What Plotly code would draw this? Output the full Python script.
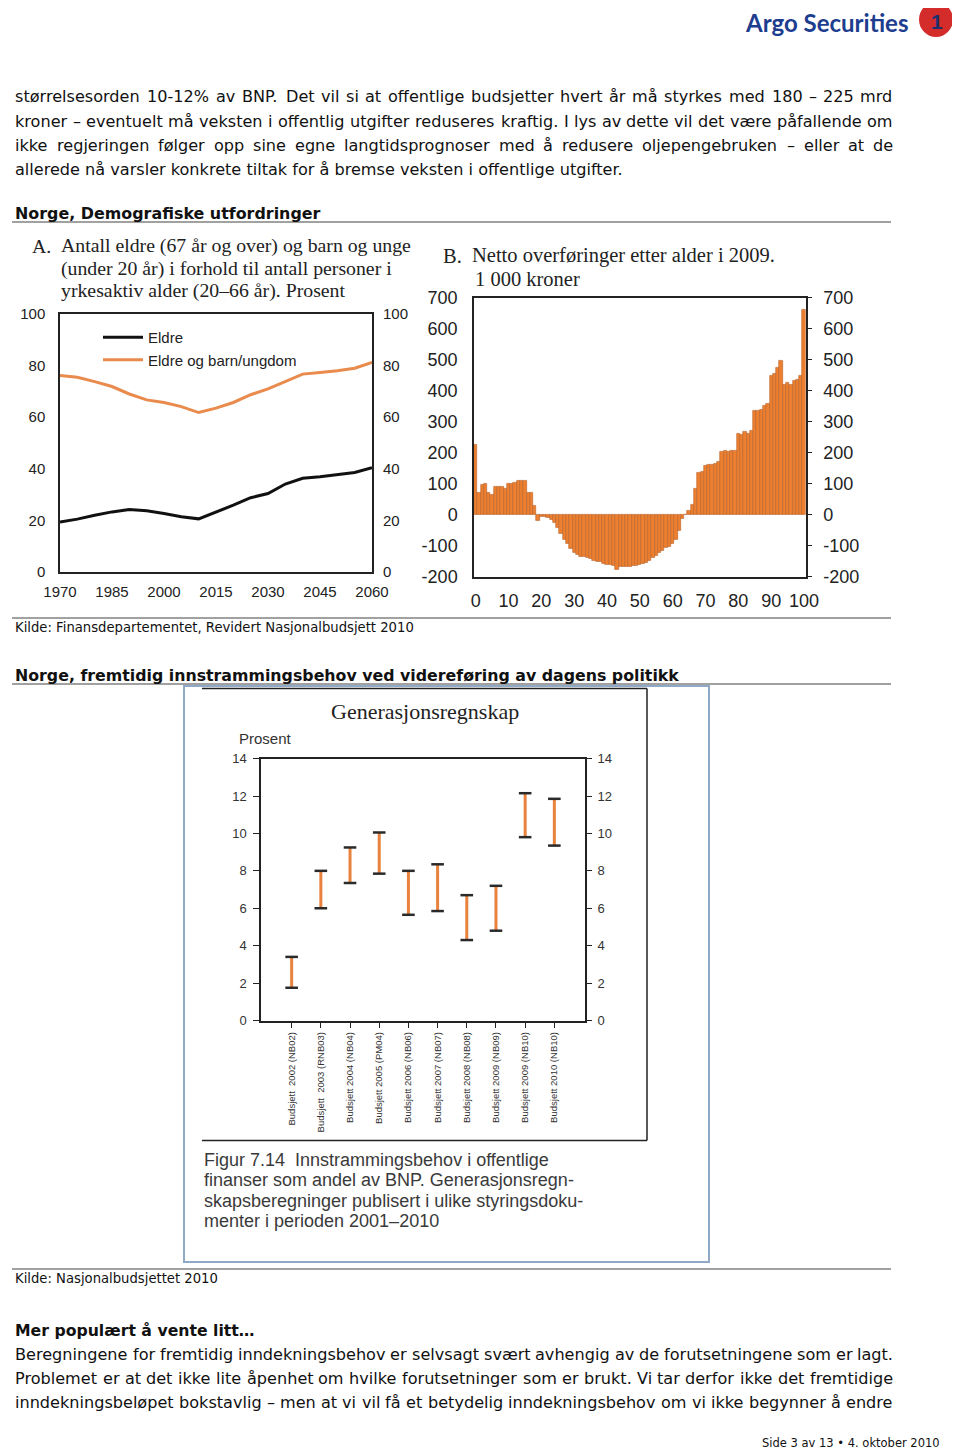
import plotly.graph_objects as go

# The page body has an 8px default margin, so the figure is placed at (8, 8).
OFF = 8
W, H = 960 - OFF, 1451 - OFF


def fx(x):
    return (x - OFF) / W


def fy(y):
    return 1 - (y - OFF) / H


# ---------------- data ----------------
years = [1970, 1975, 1980, 1985, 1990, 1995, 2000, 2005, 2010, 2015,
         2020, 2025, 2030, 2035, 2040, 2045, 2050, 2055, 2060]
eldre = [19.4, 20.5, 22.0, 23.3, 24.2, 23.7, 22.7, 21.4, 20.6, 23.2,
         25.9, 28.8, 30.4, 34.1, 36.3, 36.9, 37.8, 38.6, 40.4]
eldre_barn = [76.2, 75.5, 73.8, 71.9, 69.0, 66.7, 65.7, 64.1, 61.8, 63.5,
              65.7, 68.7, 71.0, 73.8, 76.7, 77.3, 78.0, 79.0, 81.2]
year_ticks = [1970, 1985, 2000, 2015, 2030, 2045, 2060]

ages = list(range(0, 101))
netto = [225, 70, 96, 100, 70, 65, 90, 90, 90, 85,
         99, 99, 104, 111, 111, 111, 70, 70, 28, -20,
         -8, -8, -10, -15, -27, -42, -60, -80, -95, -110,
         -122, -130, -134, -137, -140, -143, -147, -150, -153, -157,
         -160, -162, -165, -178, -169, -168, -167, -167, -166, -164,
         -162, -159, -155, -148, -140, -131, -122, -115, -108, -103,
         -92, -82, -53, -13, 0, 12, 33, 84, 135, 140,
         157, 162, 162, 166, 170, 203, 205, 203, 205, 205,
         262, 257, 267, 262, 270, 334, 334, 338, 353, 358,
         447, 455, 474, 498, 420, 426, 420, 432, 436, 449,
         660]
age_ticks = [0, 10, 20, 30, 40, 50, 60, 70, 80, 90, 100]
netto_ticks = [-200, -100, 0, 100, 200, 300, 400, 500, 600, 700]

budsjett = ["Budsjett  2002 (NB02)", "Budsjett  2003 (RNB03)", "Budsjett 2004 (NB04)",
            "Budsjett 2005 (PM04)", "Budsjett 2006 (NB06)", "Budsjett 2007 (NB07)",
            "Budsjett 2008 (NB08)", "Budsjett 2009 (NB09)", "Budsjett 2009 (NB10)",
            "Budsjett 2010 (NB10)"]
innstr_lav = [1.75, 6.0, 7.35, 7.85, 5.65, 5.85, 4.3, 4.8, 9.8, 9.35]
innstr_hoy = [3.4, 8.0, 9.25, 10.05, 8.0, 8.35, 6.7, 7.2, 12.15, 11.85]

top_lines = [
    "størrelsesorden 10-12% av BNP. Det vil si at offentlige budsjetter hvert år må styrkes med 180 – 225 mrd",
    "kroner – eventuelt må veksten i offentlig utgifter reduseres kraftig. I lys av dette vil det være påfallende om",
    "ikke regjeringen følger opp sine egne langtidsprognoser med å redusere oljepengebruken – eller at de",
    "allerede nå varsler konkrete tiltak for å bremse veksten i offentlige utgifter.",
]
bottom_lines = [
    "Beregningene for fremtidig inndekningsbehov er selvsagt svært avhengig av de forutsetningene som er lagt.",
    "Problemet er at det ikke lite åpenhet om hvilke forutsetninger som er brukt. Vi tar derfor ikke det fremtidige",
    "inndekningsbeløpet bokstavlig – men at vi vil få et betydelig inndekningsbehov om vi ikke begynner å endre",
]
caption_lines = ["Figur 7.14  Innstrammingsbehov i offentlige",
                 "finanser som andel av BNP. Generasjonsregn-",
                 "skapsberegninger publisert i ulike styringsdoku-",
                 "menter i perioden 2001–2010"]

SANS = "DejaVu Sans, Verdana, sans-serif"
ARIAL = "Liberation Sans, Arial, sans-serif"
SERIF = "Liberation Serif, Times New Roman, serif"

fig = go.Figure()

# ---- Chart A ----
fig.add_trace(go.Scatter(x=years, y=eldre, mode="lines", name="Eldre",
                         line=dict(color="#111111", width=3), xaxis="x", yaxis="y"))
fig.add_trace(go.Scatter(x=years, y=eldre_barn, mode="lines", name="Eldre og barn/ungdom",
                         line=dict(color="#E98B4C", width=3), xaxis="x", yaxis="y"))
fig.add_trace(go.Scatter(x=[], y=[], xaxis="x", yaxis="y2", showlegend=False))

# ---- Chart B ----
fig.add_trace(go.Bar(x=ages, y=netto, xaxis="x2", yaxis="y3", showlegend=False,
                     marker=dict(color="#EC7F30", line=dict(color="#B8632A", width=0.6))))
fig.add_trace(go.Scatter(x=[], y=[], xaxis="x2", yaxis="y4", showlegend=False))

# ---- Chart C ----
idx = list(range(len(budsjett)))
xs, ys = [], []
for i, lo, hi in zip(idx, innstr_lav, innstr_hoy):
    xs += [i, i, None]
    ys += [lo, hi, None]
fig.add_trace(go.Scatter(x=xs, y=ys, mode="lines", line=dict(color="#E8823C", width=3),
                         xaxis="x3", yaxis="y5", showlegend=False))
fig.add_trace(go.Scatter(x=idx + idx, y=innstr_lav + innstr_hoy, mode="markers",
                         marker=dict(symbol="line-ew", size=9,
                                     line=dict(color="#2a2a2a", width=2.5)),
                         xaxis="x3", yaxis="y5", showlegend=False))
fig.add_trace(go.Scatter(x=[], y=[], xaxis="x3", yaxis="y6", showlegend=False))

axA = dict(showgrid=False, zeroline=False, showline=True, linecolor="#222", linewidth=1.5)

tfA = dict(family=ARIAL, size=15, color="#222")
tfB = dict(family=ARIAL, size=18, color="#222")
tfC = dict(family=ARIAL, size=13, color="#333")
netto_text = [str(v) for v in netto_ticks]

fig.update_layout(
    width=W, height=H, margin=dict(l=0, r=0, t=0, b=0),
    template="none", paper_bgcolor="white", plot_bgcolor="white",
    font=dict(family=ARIAL, color="#222"),
    bargap=0,
    xaxis=dict(domain=[fx(60), fx(372)], range=[1970, 2060], tickvals=year_ticks,
               anchor="y", mirror=True, ticks="", ticklabelstandoff=5, tickfont=tfA, **axA),
    yaxis=dict(domain=[fy(572), fy(314)], range=[0, 100], dtick=20, anchor="x",
               mirror=True, ticks="", ticklabelstandoff=10, tickfont=tfA, **axA),
    yaxis2=dict(overlaying="y", side="right", anchor="x", range=[0, 100], dtick=20,
                showgrid=False, zeroline=False, showline=False, ticks="",
                ticklabelstandoff=10, tickfont=tfA),
    xaxis2=dict(domain=[fx(474), fx(805.7)], range=[-0.5, 100.5], tickvals=age_ticks,
                anchor="y3", mirror=True, ticks="", ticklabelstandoff=7, tickfont=tfB, **axA),
    yaxis3=dict(domain=[fy(576.7), fy(297.7)], range=[-200, 700], tickvals=netto_ticks,
                ticktext=netto_text, anchor="x2",
                mirror=True, ticks="", ticklabelstandoff=11, tickfont=tfB, **axA),
    yaxis4=dict(overlaying="y3", side="right", anchor="x2", range=[-200, 700],
                tickvals=netto_ticks, ticktext=netto_text,
                showgrid=False, zeroline=False, showline=False, ticks="outside", ticklen=5,
                tickcolor="#222", tickwidth=1.3, ticklabelstandoff=8, tickfont=tfB),
    xaxis3=dict(domain=[fx(261), fx(585)], range=[-1.05, 10.05], tickvals=idx, ticktext=budsjett,
                tickangle=-90, anchor="y5", mirror=True, ticks="outside", ticklen=6,
                tickcolor="#222", tickwidth=1.2,
                tickfont=dict(family=ARIAL, size=9.5, color="#333"),
                showgrid=False, zeroline=False, showline=True, linecolor="#222", linewidth=1.5),
    yaxis5=dict(domain=[fy(1020.5), fy(758.6)], range=[0, 14], dtick=2, anchor="x3",
                mirror=True, ticks="outside", ticklen=6, tickcolor="#222", tickwidth=1.2,
                ticklabelstandoff=4, tickfont=tfC,
                showgrid=False, zeroline=False, showline=True, linecolor="#222", linewidth=1.5),
    yaxis6=dict(overlaying="y5", side="right", anchor="x3", range=[0, 14], dtick=2,
                showgrid=False, zeroline=False, showline=False, ticks="outside", ticklen=6,
                tickcolor="#222", tickwidth=1.2, ticklabelstandoff=3, tickfont=tfC),
    legend=dict(x=fx(98), y=fy(321), xanchor="left", yanchor="top", bgcolor="rgba(0,0,0,0)",
                font=dict(family=ARIAL, size=15, color="#222"), tracegroupgap=0,
                itemwidth=40),
)

shapes = []
for yy in (222, 618, 684, 1269):
    shapes.append(dict(type="line", xref="paper", yref="paper", x0=fx(12), x1=fx(891),
                       y0=fy(yy), y1=fy(yy), line=dict(color="#444", width=1.2)))
shapes.append(dict(type="rect", xref="paper", yref="paper", x0=fx(184), x1=fx(709),
                   y0=fy(1262), y1=fy(686), line=dict(color="#8FA9C6", width=2)))
shapes.append(dict(type="line", xref="paper", yref="paper", x0=fx(202), x1=fx(647),
                   y0=fy(688.5), y1=fy(688.5), line=dict(color="#222", width=1.5)))
shapes.append(dict(type="line", xref="paper", yref="paper", x0=fx(647), x1=fx(647),
                   y0=fy(688.5), y1=fy(1140.5), line=dict(color="#222", width=1.5)))
shapes.append(dict(type="line", xref="paper", yref="paper", x0=fx(202), x1=fx(647),
                   y0=fy(1140.5), y1=fy(1140.5), line=dict(color="#222", width=1.5)))
shapes.append(dict(type="circle", xref="paper", yref="paper", x0=fx(919), x1=fx(953),
                   y0=fy(37), y1=fy(2), fillcolor="#D42B2B", line=dict(width=0)))
fig.update_layout(shapes=shapes)

ann = []


def txt(x, y, s, size, family=SANS, color="#111", xanchor="left", bold=False):
    if bold:
        s = "<b>" + s + "</b>"
    ann.append(dict(x=fx(x), y=fy(y), xref="paper", yref="paper", text=s, showarrow=False,
                    xanchor=xanchor, yanchor="middle",
                    font=dict(family=family, size=size, color=color)))


# approximate DejaVu Sans advance widths (em) used to justify the body text
EM = {" ": .318, ".": .318, ",": .318, "-": .361, "–": .5, "%": .95, "…": 1.0,
      "a": .613, "b": .635, "c": .55, "d": .635, "e": .615, "f": .352, "g": .635,
      "h": .634, "i": .278, "j": .278, "k": .579, "l": .278, "m": .974, "n": .634,
      "o": .612, "p": .635, "q": .635, "r": .411, "s": .521, "t": .392, "u": .634,
      "v": .592, "w": .818, "x": .592, "y": .592, "z": .525, "å": .613, "ø": .612,
      "æ": .981, "B": .686, "N": .748, "P": .603, "D": .77, "I": .295, "V": .684}
for dch in "0123456789":
    EM[dch] = .636


def width(s, size):
    return sum(EM.get(ch, .62) for ch in s) * size


BODY = 16.1
X0, X1 = 13, 891


def justified(y, line, size, last=False):
    if last:
        txt(X0, y, line, size)
        return
    words = line.split(" ")
    ws = [width(w, size) for w in words]
    gap = (X1 - X0 - sum(ws)) / (len(words) - 1)
    x = X0
    for w, wd in zip(words, ws):
        txt(x, y, w, size)
        x += wd + gap


# logo
txt(910, 22.5, "Argo Securities", 24, family="Lato, Roboto, sans-serif", color="#1D3D8F",
    xanchor="right", bold=True)
txt(937, 21, "1", 21, family=ARIAL, color="#1D2F6F", xanchor="center", bold=True)

for i, line in enumerate(top_lines):
    justified(97 + i * 24.3, line, BODY, last=(i == len(top_lines) - 1))

txt(13, 213, "Norge, Demografiske utfordringer", 15.9, bold=True)

# Chart A title
txt(30, 246, "A.", 19.8, family=SERIF, color="#222")
for i, s in enumerate(["Antall eldre (67 år og over) og barn og unge",
                       "(under 20 år) i forhold til antall personer i",
                       "yrkesaktiv alder (20–66 år). Prosent"]):
    txt(59, 246 + i * 22.2, s, 19.8, family=SERIF, color="#222")

# Chart B title
txt(441, 256, "B.", 20.5, family=SERIF, color="#222")
txt(470, 256, "Netto overføringer etter alder i 2009.", 20.5, family=SERIF, color="#222")
txt(473, 279, "1 000 kroner", 20.5, family=SERIF, color="#222")

txt(13, 627, "Kilde: Finansdepartementet, Revidert Nasjonalbudsjett 2010", 13.2)
txt(13, 675, "Norge, fremtidig innstrammingsbehov ved videreføring av dagens politikk", 15.8,
    bold=True)

# Chart C titles
txt(425, 711, "Generasjonsregnskap", 22, family=SERIF, color="#222", xanchor="center")
txt(237, 738, "Prosent", 15, family=ARIAL, color="#333")

for i, s in enumerate(caption_lines):
    txt(202, 1160 + i * 20.4, s, 18, family=ARIAL, color="#3a3a3a")

txt(13, 1278, "Kilde: Nasjonalbudsjettet 2010", 13.2)
txt(13, 1330, "Mer populært å vente litt…", 15.7, bold=True)
for i, line in enumerate(bottom_lines):
    justified(1354 + i * 24.3, line, BODY)

txt(942, 1443, "Side 3 av 13 • 4. oktober 2010", 11.5, xanchor="right")

fig.update_layout(annotations=ann)

fig.write_html("out.html")
